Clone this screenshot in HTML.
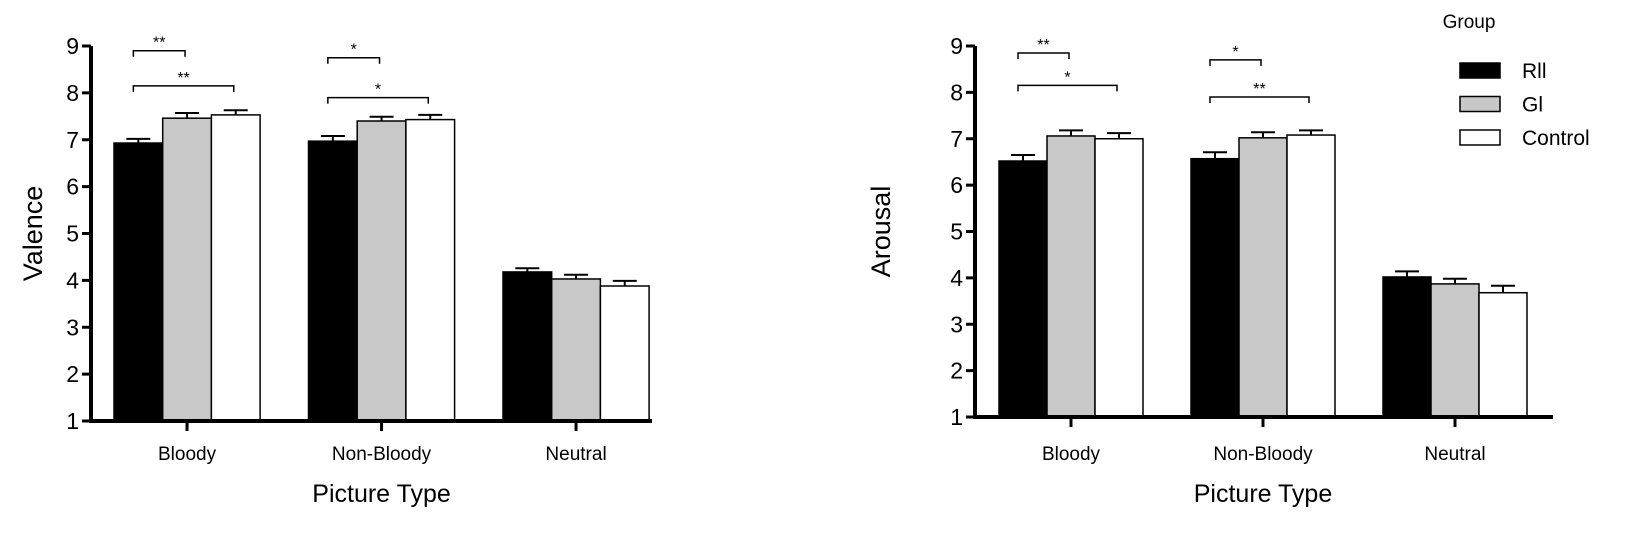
<!DOCTYPE html>
<html><head><meta charset="utf-8"><style>
html,body{margin:0;padding:0;background:#fff;}
svg{display:block;font-family:"Liberation Sans",Arial,sans-serif;}
</style></head><body>
<svg id="chart" width="1631" height="542" viewBox="0 0 1631 542" xmlns="http://www.w3.org/2000/svg"></svg>
<script>
const categories = ["Bloody", "Non-Bloody", "Neutral"];
const groups = ["RII", "GI", "Control"];
const yTicks = [1, 2, 3, 4, 5, 6, 7, 8, 9];
const valenceRII = [6.93, 6.97, 4.18];
const valenceGI = [7.46, 7.40, 4.03];
const valenceControl = [7.53, 7.43, 3.88];
const valenceErr = [[0.09, 0.11, 0.08], [0.11, 0.09, 0.09], [0.10, 0.10, 0.11]];
const arousalRII = [6.52, 6.57, 4.02];
const arousalGI = [7.06, 7.02, 3.87];
const arousalControl = [7.00, 7.08, 3.68];
const arousalErr = [[0.13, 0.14, 0.12], [0.12, 0.12, 0.11], [0.12, 0.10, 0.15]];
const valenceSig = [[0, 0, 1, "**"], [0, 0, 2, "**"], [1, 0, 1, "*"], [1, 0, 2, "*"]];
const arousalSig = [[0, 0, 1, "**"], [0, 0, 2, "*"], [1, 0, 1, "*"], [1, 0, 2, "**"]];
const valenceSigLevel = [8.9, 8.15, 8.75, 7.9];
const arousalSigLevel = [8.85, 8.15, 8.7, 7.9];

const NS = "http://www.w3.org/2000/svg";
const svg = document.getElementById("chart");
const fills = ["#000", "#c8c8c8", "#fff"];
function mk(tag, attrs, parent) {
  const e = document.createElementNS(NS, tag);
  for (const k in attrs) e.setAttribute(k, attrs[k]);
  (parent || svg).appendChild(e);
  return e;
}
function drawPanel(cfg) {
  const g = mk("g", {});
  
  
  const y = v => cfg.y1 + (v - 1) * (cfg.y9 - cfg.y1) / 8;
  const x = (ci, gi) => cfg.x0 + ci * cfg.gap + gi * cfg.bw;
  // bars
  const series = cfg.series;
  series.forEach((vals, gi) => {
    vals.forEach((v, ci) => {
      const r = mk("rect", {x: x(ci, gi), y: y(v), width: cfg.bw, height: y(1) - y(v), fill: fills[gi], stroke: "#000", "stroke-width": 1.5}, g);
      
      
      const cx = x(ci, gi) + cfg.bw / 2;
      const e = cfg.err[gi][ci];
      const eb = mk("path", {d: `M${cx} ${y(v)}V${y(v + e)}M${cx - 12} ${y(v + e)}H${cx + 12}`, stroke: "#000", "stroke-width": 2, fill: "none"}, g);
      
      
    });
  });
  // axes
  const ax = mk("path", {d: `M${cfg.ax} ${cfg.y9}V${y(1)}H${cfg.axEnd}`, stroke: "#000", "stroke-width": 4, fill: "none"}, g);
  
  
  yTicks.forEach(t => {
    mk("line", {x1: cfg.ax - 9, x2: cfg.ax, y1: y(t), y2: y(t), stroke: "#000", "stroke-width": 3}, g);
    const tl = mk("text", {x: cfg.ax - 12, y: y(t) + 8, "text-anchor": "end", "font-size": 23}, g);
    tl.textContent = t;
    
    
  });
  categories.forEach((c, ci) => {
    const cx = x(ci, 0) + cfg.bw * 1.5;
    mk("line", {x1: cx, x2: cx, y1: y(1), y2: y(1) + 10, stroke: "#000", "stroke-width": 3}, g);
    const tl = mk("text", {x: cx, y: 460, "text-anchor": "middle", "font-size": 19}, g);
    tl.textContent = c;
    
    
  });
  const xt = mk("text", {x: cx0 = x(1, 0) + cfg.bw * 1.5, y: 502, "text-anchor": "middle", "font-size": 25}, g);
  xt.textContent = "Picture Type";
  
  
  const yt = mk("text", {x: 0, y: 0, "text-anchor": "middle", "font-size": 27, transform: `translate(${cfg.ylx},${(cfg.y9 + cfg.y1) / 2}) rotate(-90)`}, g);
  yt.textContent = cfg.ylabel;
  
  
  // significance brackets
  cfg.sig.forEach((s, i) => {
    const [ci, a, b, lab] = s;
    const xa = x(ci, a) + cfg.bw / 2 - 5, xb = x(ci, b) + cfg.bw / 2 - 2;
    const yy = y(cfg.sigLevel[i]);
    const p = mk("path", {d: `M${xa} ${yy + 6}V${yy}H${xb}V${yy + 6}`, stroke: "#000", "stroke-width": 1.5, fill: "none"}, g);
    
    
    const t = mk("text", {x: (xa + xb) / 2, y: yy - 3, "text-anchor": "middle", "font-size": 16}, g);
    t.textContent = lab;
    
    
  });
}
drawPanel({name: "valence-chart", series: [valenceRII, valenceGI, valenceControl], err: valenceErr,
  sig: valenceSig, sigLevel: valenceSigLevel, x0: 114, gap: 194.5, bw: 48.7, ax: 91, axEnd: 652,
  y1: 421, y9: 46, ylx: 42, ylabel: "Valence"});
drawPanel({name: "arousal-chart", series: [arousalRII, arousalGI, arousalControl], err: arousalErr,
  sig: arousalSig, sigLevel: arousalSigLevel, x0: 999, gap: 192, bw: 48, ax: 975, axEnd: 1553,
  y1: 417, y9: 46, ylx: 890, ylabel: "Arousal"});
// legend
const lg = mk("g", {});


const lt = mk("text", {x: 1469, y: 28, "text-anchor": "middle", "font-size": 19}, lg);
lt.textContent = "Group";


["RII", "GI", "Control"].forEach((nm, i) => {
  const yy = 63 + i * 33.5;
  const r = mk("rect", {x: 1460, y: yy, width: 40, height: 15, fill: fills[i], stroke: "#000", "stroke-width": 1.5}, lg);
  
  
  const t = mk("text", {x: 1522, y: yy + 15, "font-size": 21}, lg);
  t.textContent = nm === "RII" ? "Rll" : (nm === "GI" ? "Gl" : nm);
  
  
});
</script>
</body></html>
